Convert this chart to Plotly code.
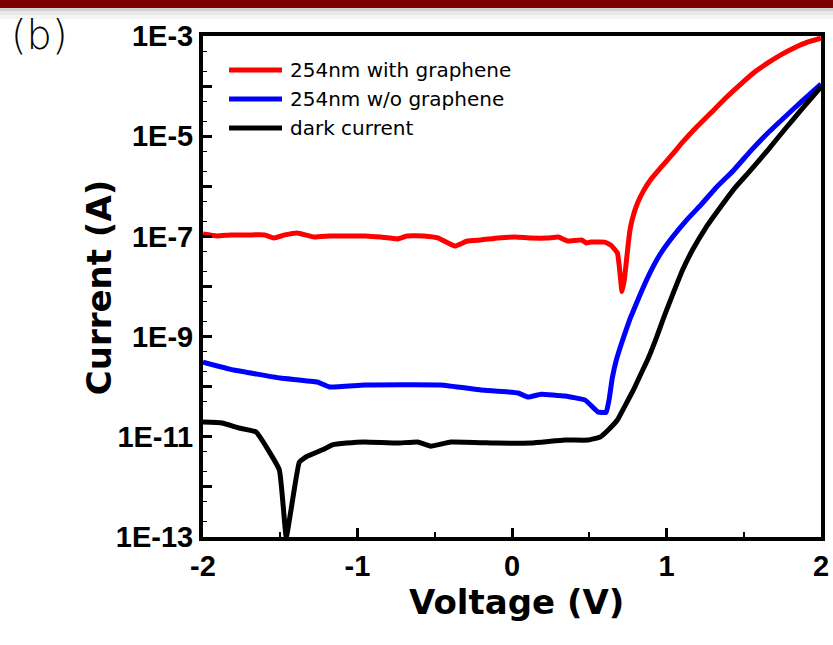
import plotly.graph_objects as go

# ---- data ----
red_v = [-2.00, -1.91, -1.82, -1.71, -1.60, -1.54, -1.47, -1.39, -1.28, -1.18, -1.06, -0.95,
         -0.85, -0.74, -0.68, -0.57, -0.48, -0.37, -0.29, -0.20, -0.09, 0.02, 0.12, 0.23,
         0.30, 0.36, 0.45, 0.48, 0.51, 0.60, 0.64, 0.682, 0.695, 0.712, 0.727, 0.740, 0.753,
         0.766, 0.786, 0.812, 0.851, 0.896, 0.961, 1.039, 1.110, 1.195, 1.286, 1.383, 1.481,
         1.571, 1.656, 1.740, 1.825, 1.916, 2.00]
red_i = [1.12e-7, 1.02e-7, 1.07e-7, 1.07e-7, 1.07e-7, 0.93e-7, 1.07e-7, 1.17e-7, 0.97e-7,
         1.02e-7, 1.02e-7, 1.02e-7, 0.97e-7, 0.89e-7, 1.02e-7, 1.02e-7, 0.93e-7, 0.64e-7,
         0.81e-7, 0.85e-7, 0.93e-7, 0.97e-7, 0.93e-7, 0.93e-7, 0.97e-7, 0.81e-7, 0.85e-7,
         0.74e-7, 0.77e-7, 0.77e-7, 0.67e-7, 4.7e-8, 2.45e-8, 7.9e-9, 1.35e-8, 3.1e-8, 7.4e-8,
         1.47e-7, 2.67e-7, 4.6e-7, 8.1e-7, 1.34e-6, 2.32e-6, 4.4e-6, 8.0e-6, 1.53e-5, 2.9e-5,
         5.8e-5, 1.1e-4, 1.91e-4, 2.9e-4, 4.2e-4, 5.75e-4, 7.6e-4, 9.1e-4]

blue_v = [-2.00, -1.80, -1.50, -1.26, -1.18, -0.955, -0.461, -0.20, 0.039, 0.104, 0.188,
          0.344, 0.474, 0.558, 0.610, 0.630, 0.649, 0.675, 0.714, 0.766, 0.831, 0.896,
          0.961, 1.039, 1.130, 1.221, 1.325, 1.435, 1.545, 1.656, 1.773, 1.870, 2.00]
blue_i = [3.1e-10, 2.15e-10, 1.49e-10, 1.24e-10, 9.9e-11, 1.08e-10, 1.08e-10, 8.6e-11,
          7.5e-11, 6.2e-11, 7.1e-11, 6.5e-11, 5.4e-11, 3.1e-11, 3.1e-11, 5.9e-11, 1.49e-10,
          3.4e-10, 8.2e-10, 2.35e-9, 7.1e-9, 1.95e-8, 4.5e-8, 9.7e-8, 2.12e-7, 4.2e-7, 9.7e-7,
          2.1e-6, 5.1e-6, 1.16e-5, 2.53e-5, 4.8e-5, 1.1e-4]

dark_v = [-2.00, -1.877, -1.766, -1.656, -1.506, -1.461, -1.377, -1.331, -1.227, -1.162,
          -1.071, -0.955, -0.740, -0.610, -0.526, -0.396, -0.091, 0.123, 0.344, 0.494,
          0.571, 0.623, 0.682, 0.734, 0.786, 0.831, 0.877, 0.929, 0.981, 1.039, 1.104,
          1.169, 1.253, 1.351, 1.448, 1.545, 1.656, 1.773, 1.870, 2.00]
dark_i = [1.97e-11, 1.88e-11, 1.5e-11, 1.25e-11, 2.2e-12, 1.0e-13, 3.1e-12, 4.0e-12,
          5.5e-12, 6.9e-12, 7.5e-12, 7.9e-12, 7.5e-12, 7.9e-12, 6.5e-12, 7.9e-12, 7.5e-12,
          7.5e-12, 8.6e-12, 8.6e-12, 9.9e-12, 1.37e-11, 2.16e-11, 4.3e-11, 8.6e-11, 1.71e-10,
          3.4e-10, 8.5e-10, 2.35e-9, 6.8e-9, 2.13e-8, 5.4e-8, 1.47e-7, 3.9e-7, 9.7e-7,
          2.1e-6, 5.3e-6, 1.46e-5, 3.3e-5, 9.6e-5]

names = ["254nm with graphene", "254nm w/o graphene", "dark current"]
colors = ["#ff0000", "#0000ff", "#000000"]

x_range = [-2, 2]
x_ticks = [-2, -1, 0, 1, 2]
y_range_log = [-13, -3]
y_tickvals = [1e-3, 1e-4, 1e-5, 1e-6, 1e-7, 1e-8, 1e-9, 1e-10, 1e-11, 1e-12, 1e-13]
y_ticktext = ["1E-3", "", "1E-5", "", "1E-7", "", "1E-9", "", "1E-11", "", "1E-13"]

fig = go.Figure()
for v, i, n, c in [(red_v, red_i, names[0], colors[0]),
                   (blue_v, blue_i, names[1], colors[1]),
                   (dark_v, dark_i, names[2], colors[2])]:
    fig.add_trace(go.Scatter(x=v, y=i, mode="lines", name=n, showlegend=False,
                             line=dict(color=c, width=5, shape="spline", smoothing=0.3)))

TICKFONT = dict(family="Liberation Sans, Arial, sans-serif", size=29, color="black", weight="bold")
TITLEFONT = dict(family="DejaVu Sans, sans-serif", size=34, color="black", weight="bold")

xtick_style = dict(ticks="inside", ticklen=9, tickwidth=3, tickcolor="black",
                   minor=dict(dtick=0.5, ticks="inside", ticklen=5, tickwidth=2, tickcolor="black"))
ytick_style = dict(ticks="inside", ticklen=9, tickwidth=3, tickcolor="black",
                   minor=dict(ticks="inside", ticklen=4, tickwidth=1, tickcolor="black"))

fig.update_layout(
    xaxis=dict(range=x_range, tickvals=x_ticks, ticktext=[str(t) for t in x_ticks],
               showline=True, linewidth=4, linecolor="black", mirror=True,
               showgrid=False, zeroline=False, tickfont=TICKFONT, automargin=False,
               **xtick_style),
    yaxis=dict(type="log", range=y_range_log, tickvals=y_tickvals, ticktext=y_ticktext,
               showline=True, linewidth=4, linecolor="black", mirror=True,
               showgrid=False, zeroline=False, tickfont=TICKFONT, automargin=False,
               **ytick_style),
    xaxis2=dict(overlaying="x", side="top", anchor="y", range=x_range, tickvals=x_ticks,
                showticklabels=False, showline=False, showgrid=False, zeroline=False,
                automargin=False, **xtick_style),
    yaxis2=dict(overlaying="y", side="right", anchor="x", type="log", range=y_range_log,
                tickvals=y_tickvals, showticklabels=False, showline=False, showgrid=False,
                zeroline=False, automargin=False, **ytick_style),
)

# frame around the plot area (drawn explicitly so all four sides show)
px_w, px_h = 618.0, 501.0
shapes = [
    dict(type="rect", xref="paper", yref="paper", x0=-2 / px_w, x1=1 + 2 / px_w,
         y0=-2 / px_h, y1=1 + 2 / px_h, line=dict(color="black", width=4),
         fillcolor="rgba(0,0,0,0)", layer="above"),
    dict(type="rect", xref="paper", yref="paper", x0=-0.4, x1=1.05,
         y0=1 + 28 / 501, y1=1 + 40 / 501, fillcolor="#7a0000", line_width=0, layer="below"),
    dict(type="rect", xref="paper", yref="paper", x0=-0.4, x1=1.05,
         y0=1 + 25 / 501, y1=1 + 28 / 501, fillcolor="#d2d2d2", line_width=0, layer="below"),
    dict(type="rect", xref="paper", yref="paper", x0=-0.4, x1=1.05,
         y0=1 + 21 / 501, y1=1 + 25 / 501, fillcolor="#e8e8e8", line_width=0, layer="below"),
    dict(type="rect", xref="paper", yref="paper", x0=-0.4, x1=1.05,
         y0=1 + 17 / 501, y1=1 + 21 / 501, fillcolor="#f5f5f5", line_width=0, layer="below"),
]
annotations = [
    dict(text="(b)", xref="paper", yref="paper", x=-0.2638, y=1.002,
         xanchor="center", yanchor="middle", showarrow=False,
         font=dict(family="DejaVu Sans, sans-serif", size=40, color="black", weight=200)),
    dict(text="Current (A)", xref="paper", yref="paper", x=-0.168, y=0.497,
         xanchor="center", yanchor="middle", showarrow=False, textangle=-90, font=TITLEFONT),
    dict(text="Voltage (V)", xref="paper", yref="paper", x=0.508, y=-0.1297,
         xanchor="center", yanchor="middle", showarrow=False, font=TITLEFONT),
]
leg_y = [0.9321, 0.8743, 0.8164]
for n, c, y in zip(names, colors, leg_y):
    shapes.append(dict(type="line", xref="paper", yref="paper", x0=0.0421, x1=0.1278,
                       y0=y, y1=y, line=dict(color=c, width=5), layer="above"))
    annotations.append(dict(text=n, xref="paper", yref="paper", x=0.1375, y=y,
                            xanchor="left", yanchor="middle", showarrow=False,
                            font=dict(family="DejaVu Sans, sans-serif", size=20, color="black")))

fig.update_layout(
    width=833, height=645,
    margin=dict(l=203, r=12, t=36, b=108, autoexpand=False),
    paper_bgcolor="white", plot_bgcolor="rgba(0,0,0,0)",
    showlegend=False,
    shapes=shapes,
    annotations=annotations,
)

fig.write_html("out.html")
